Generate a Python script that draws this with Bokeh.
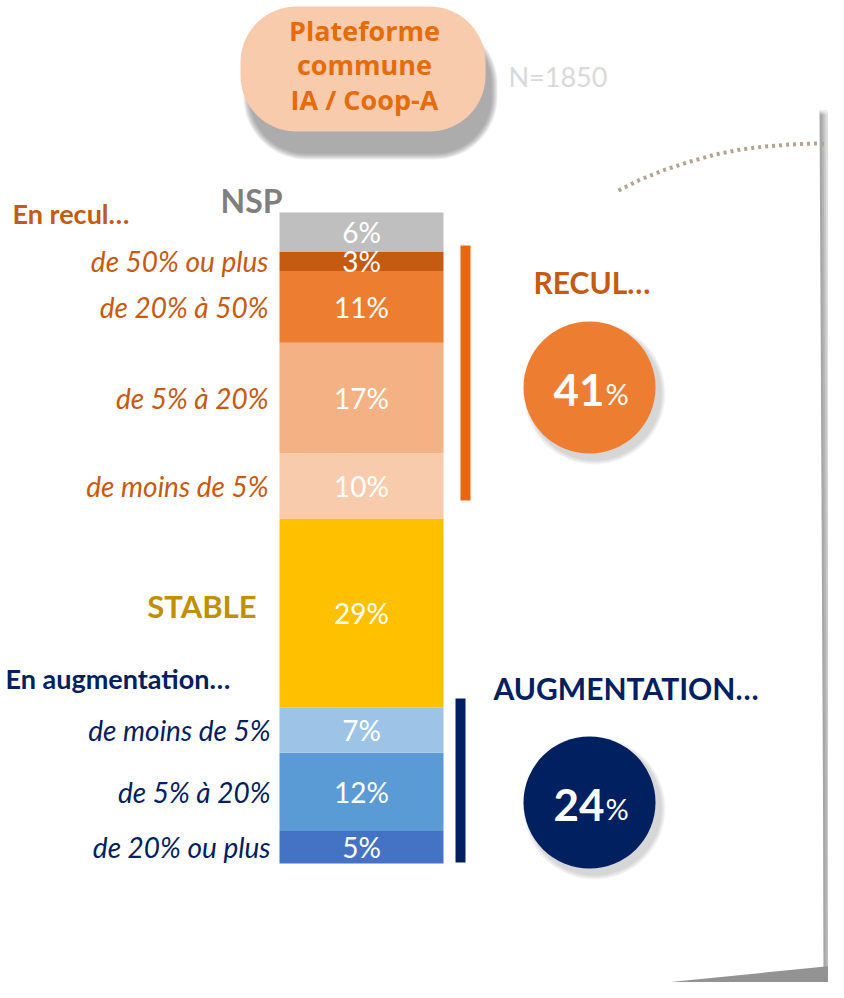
import numpy as np
from bokeh.plotting import figure
from bokeh.models import ColumnDataSource, Range1d
from bokeh.core.properties import value
from bokeh.embed import file_html
from bokeh.resources import INLINE

# ---------------- data ----------------
nsp_label = "NSP"
nsp_value = 6
recul_labels = ["de 50% ou plus", "de 20% à 50%", "de 5% à 20%", "de moins de 5%"]
recul_values = [3, 11, 17, 10]
stable_label = "STABLE"
stable_value = 29
augm_labels = ["de moins de 5%", "de 5% à 20%", "de 20% ou plus"]
augm_values = [7, 12, 5]
sample_size = "N=1850"
title_lines = ["Plateforme", "commune", "IA / Coop-A"]

# ---------------- styles ----------------
NSP_COLOR = "#BFBFBF"
RECUL_COLORS = ["#C55A11", "#ED7D31", "#F4B183", "#F8CBAD"]
STABLE_COLOR = "#FFC000"
AUGM_COLORS = ["#9DC3E6", "#5B9BD5", "#4472C4"]
ORANGE_TXT = "#C55A11"
NAVY = "#002060"
GOLD_TXT = "#BF9000"
FONT = value("Lato")
TFONT = value("Open Sans")

# layout helpers (pixel rows of the picture -> percent axis)
BASE = 863.0      # pixel row of the bar bottom
PX = 6.51         # pixels per percent
def Y(py):
    return (BASE - py) / PX

W, H = 828, 982
p = figure(width=W, height=H, x_range=Range1d(0, W), y_range=Range1d(Y(H), Y(0)),
           output_backend="svg", toolbar_location=None, min_border=0)
p.axis.visible = False
p.grid.visible = False
p.outline_line_color = None
p.background_fill_color = "white"
p.border_fill_color = "white"

def poly(xs, ys, **kw):
    p.patch(list(xs), [Y(v) for v in ys], line_color=None, **kw)

# ---------- paper shadows ----------
edge_y = np.array([110, 500, 800, 982])
edge_x = np.array([819, 821, 822.5, 823])
for off, col in [(0, "#A6A6A6"), (2, "#B4B4B4"), (4, "#C8C8C8"), (6, "#DEDEDE")]:
    xs = list(edge_x + off) + [830, 830]
    ys = list(edge_y) + [982, 110]
    poly(xs, ys, fill_color=col)
for k in range(6):
    poly([819, 830, 830, 819], [104 + k * 2, 104 + k * 2, 112, 112], fill_color="white", fill_alpha=0.25)
poly([665, 830, 830], [982, 965.5, 982], fill_color="#939393")

# dotted arc
arc_x = [618, 640, 665, 690, 715, 740, 765, 790, 815, 840]
arc_y = [190, 179, 169, 161, 154, 149, 146, 144, 143, 144]
p.line(arc_x, [Y(v) for v in arc_y], line_color="#B3A392", line_width=4, line_dash="3 4")

# ---------- title bubble ----------
def rrect(x0, y0, x1, y1, r, n=20):
    xs, ys = [], []
    corners = [(x1 - r, y0 + r, -90, 0), (x1 - r, y1 - r, 0, 90),
               (x0 + r, y1 - r, 90, 180), (x0 + r, y0 + r, 180, 270)]
    for cx, cy, a0, a1 in corners:
        for a in np.linspace(np.radians(a0), np.radians(a1), n):
            xs.append(cx + r * np.cos(a))
            ys.append(cy + r * np.sin(a))
    return xs, ys

for k in range(7):
    g = 7 - k
    xs, ys = rrect(250 - g, 28 - g, 490 + g, 152 + g, 56 + g)
    poly(xs, ys, fill_color="#6F6F6F", fill_alpha=0.11)
xs, ys = rrect(240, 6, 485, 131, 56)
poly(xs, ys, fill_color="#F8CBAD")
p.text(x=[364] * 3, y=[Y(30), Y(64), Y(99)], text=title_lines, text_align="center",
       text_baseline="middle", text_font=TFONT, text_font_style="bold",
       text_font_size="27px", text_color="#E46C0A")
p.text(x=[508], y=[Y(76)], text=[sample_size], text_align="left", text_baseline="middle",
       text_font=FONT, text_font_size="27px", text_color="#D9D9D9")

# ---------- stacked bar ----------
vals = augm_values[::-1] + [stable_value] + recul_values[::-1] + [nsp_value]
cols = AUGM_COLORS[::-1] + [STABLE_COLOR] + RECUL_COLORS[::-1] + [NSP_COLOR]
tops = np.cumsum(vals)
bottoms = tops - np.array(vals)
src = ColumnDataSource(dict(x=[361] * len(vals), bottom=bottoms, top=tops, color=cols,
                            mid=(bottoms + tops) / 2, lab=[f"{v}%" for v in vals]))
p.vbar(x="x", width=164, bottom="bottom", top="top", fill_color="color", line_color=None, source=src)
p.text(x="x", y="mid", text="lab", source=src, text_align="center", text_baseline="middle",
       text_font=FONT, text_font_size="28px", text_color="white")

# category labels
n_aug = len(augm_values)
mids = (bottoms + tops) / 2
aug_mids = mids[:n_aug][::-1]
stable_mid = mids[n_aug]
rec_mids = mids[n_aug + 1:n_aug + 1 + len(recul_values)][::-1]

p.text(x=[268] * len(recul_labels), y=list(rec_mids), text=recul_labels, text_align="right",
       text_baseline="middle", text_font=FONT, text_font_style="italic",
       text_font_size="28px", text_color=ORANGE_TXT)
p.text(x=[270] * len(augm_labels), y=list(aug_mids), text=augm_labels, text_align="right",
       text_baseline="middle", text_font=FONT, text_font_style="italic",
       text_font_size="28px", text_color=NAVY)
p.text(x=[256], y=[stable_mid + 1], text=[stable_label], text_align="right", text_baseline="middle",
       text_font=FONT, text_font_style="bold", text_font_size="31px", text_color=GOLD_TXT)
p.text(x=[282], y=[Y(200)], text=[nsp_label], text_align="right", text_baseline="middle",
       text_font=FONT, text_font_style="bold", text_font_size="32px", text_color="#7F7F7F")
p.text(x=[12], y=[Y(213)], text=["En recul…"], text_align="left", text_baseline="middle",
       text_font=FONT, text_font_style="bold", text_font_size="27px", text_color=ORANGE_TXT)
p.text(x=[5], y=[Y(678)], text=["En augmentation…"], text_align="left", text_baseline="middle",
       text_font=FONT, text_font_style="bold", text_font_size="27px", text_color=NAVY)

# ---------- group brackets ----------
p.quad(left=[460], right=[470], top=[Y(245)], bottom=[Y(500)], fill_color="#EB6410", line_color=None)
p.quad(left=[455], right=[465], top=[Y(698)], bottom=[Y(862)], fill_color=NAVY, line_color=None)

p.text(x=[533], y=[Y(281)], text=["RECUL…"], text_align="left", text_baseline="middle",
       text_font=FONT, text_font_style="bold", text_font_size="30px", text_color=ORANGE_TXT)
p.text(x=[493], y=[Y(687)], text=["AUGMENTATION…"], text_align="left", text_baseline="middle",
       text_font=FONT, text_font_style="bold", text_font_size="30px", text_color=NAVY)

# ---------- totals circles ----------
recul_total = sum(recul_values)
augm_total = sum(augm_values)
for cy, col, tot in [(387, "#ED7D31", recul_total), (802, NAVY, augm_total)]:
    for k in range(5):
        p.circle(x=[589 + 5], y=[Y(cy + 6)], radius=66 + 5 - k, fill_color="#7F7F7F",
                 fill_alpha=0.07, line_color=None)
    p.circle(x=[589], y=[Y(cy)], radius=66, fill_color=col, line_color=None)
    p.text(x=[604], y=[Y(cy + 2)], text=[f"{tot}"], text_align="right", text_baseline="middle",
           text_font=FONT, text_font_style="bold", text_font_size="44px", text_color="white")
    p.text(x=[605], y=[Y(cy + 6)], text=["%"], text_align="left", text_baseline="middle",
           text_font=FONT, text_font_size="29px", text_color="white")

open("out.html", "w").write(file_html(p, INLINE))
